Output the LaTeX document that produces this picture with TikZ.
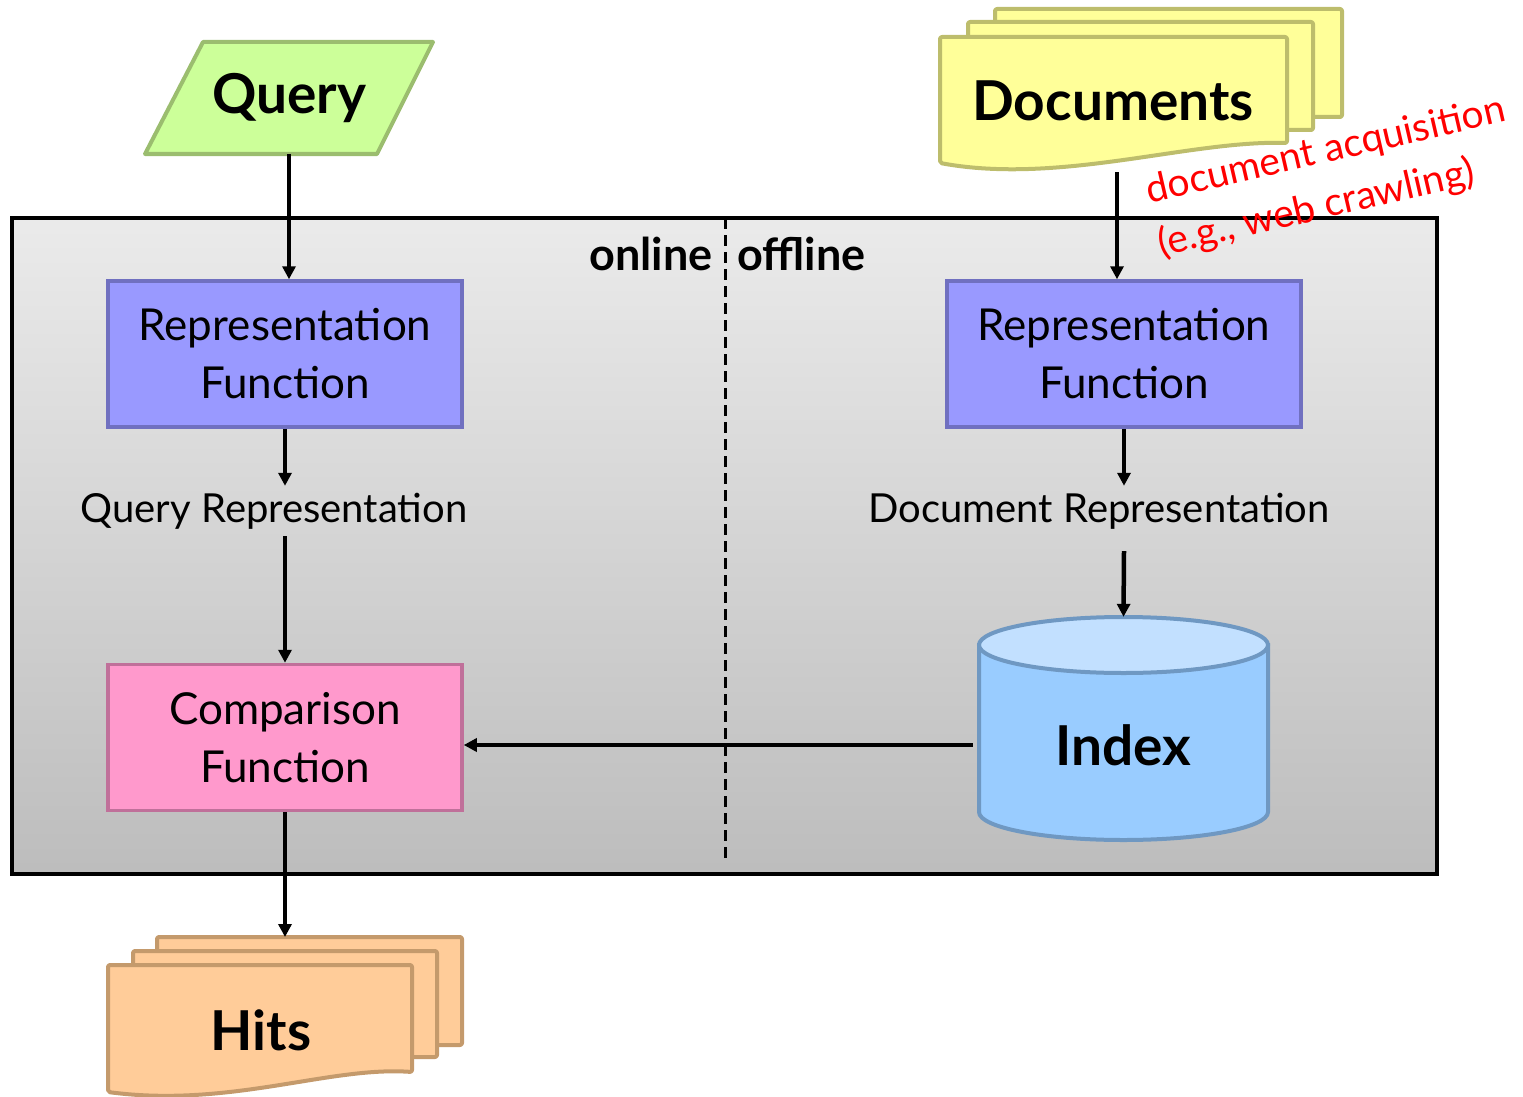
\documentclass[tikz,border=0pt]{standalone}
\usepackage{fontspec}
\setmainfont{Lato}
\usetikzlibrary{arrows.meta}
\definecolor{qfill}{HTML}{CCFF99}\definecolor{qline}{HTML}{9BBD6F}
\definecolor{rfill}{HTML}{9999FF}\definecolor{rline}{HTML}{7070C0}
\definecolor{cfill}{HTML}{FF99CC}\definecolor{cline}{HTML}{C0709A}
\definecolor{dfill}{HTML}{FFFF99}\definecolor{dline}{HTML}{BDBD6C}
\definecolor{hfill}{HTML}{FFCC99}\definecolor{hline}{HTML}{C49A6C}
\definecolor{ibody}{HTML}{99CCFF}\definecolor{itop}{HTML}{C2E0FF}\definecolor{iline}{HTML}{6F98C2}
\definecolor{redtxt}{HTML}{FF0000}
\tikzset{
  arr/.style={line width=4.5pt,-{Triangle[length=13pt,width=13pt]}},
  box/.style={line width=3.5pt,minimum width=354pt,minimum height=146pt,align=center,font=\fontsize{44}{58}\selectfont},
  plain/.style={font=\fontsize{40}{48}\selectfont},
  big/.style={font=\fontsize{55}{64}\selectfont\bfseries},
  mid/.style={font=\fontsize{45}{52}\selectfont\bfseries},
  sheet/.style={line width=4pt,rounded corners=2pt,line join=round},
}
\begin{document}
\begin{tikzpicture}[x=1pt,y=-1pt]
\useasboundingbox (0,0) rectangle (1523,1097);
% main panel
\shade[top color=black!8,bottom color=black!26] (12,218) rectangle (1437,874);
\draw[line width=4.5pt] (12,218) rectangle (1437,874);
\draw[line width=3pt,dash pattern=on 11pt off 6pt] (725,218) -- (725,862);
\node[mid,anchor=east] (online) at (716,254) {online};
\node[mid,anchor=west] (offline) at (734,254) {offline};
% Query
\filldraw[fill=qfill,draw=qline,line width=4pt,line join=round] (203,42) -- (433,42) -- (377,154) -- (145,154) -- cycle;
\node[big,minimum height=112pt] (query) at (289,98) {Query};
% Documents
\filldraw[sheet,fill=dfill,draw=dline] (995,9) -- (1342,9) -- (1342,117) -- (995,117) -- cycle;
\filldraw[sheet,fill=dfill,draw=dline] (968,22) -- (1313,22) -- (1313,130) -- (968,130) -- cycle;
\filldraw[sheet,fill=dfill,draw=dline] (940,37) -- (1287,37) -- (1287,143) .. controls (1190,140) and (1060,185) .. (940,163) -- cycle;
\node[big] (docs) at (1113,101) {Documents};
\coordinate (docsout) at (1117,172);
% red annotation
\node[rotate=13,align=left,text=redtxt,font=\fontsize{39}{54}\selectfont] (acq) at (1332,178) {document acquisition\\(e.g., web crawling)};
% representation functions
\node[box,draw=rline,fill=rfill] (repL) at (285,354) {Representation\\Function};
\node[box,draw=rline,fill=rfill] (repR) at (1124,354) {Representation\\Function};
\node[plain,minimum height=50pt] (qrep) at (274,511) {Query Representation};
\node[plain,minimum height=50pt] (drep) at (1099,511) {Document Representation};
% comparison
\node[box,draw=cline,fill=cfill] (comp) at (285,737.5) {Comparison\\Function};
% index cylinder
\filldraw[fill=ibody,draw=iline,line width=4pt] (979,645) -- (979,812) arc[start angle=180,end angle=360,x radius=144.5pt,y radius=28pt] -- (1268,645) -- cycle;
\filldraw[fill=itop,draw=iline,line width=4pt] (1123.5,645) ellipse[x radius=144.5pt,y radius=28pt];
\node[big,minimum width=301pt,minimum height=256pt] (index) at (1123.5,745) {Index};
% Hits
\filldraw[sheet,fill=hfill,draw=hline] (157,937) -- (462,937) -- (462,1045) -- (157,1045) -- cycle;
\filldraw[sheet,fill=hfill,draw=hline] (133,951) -- (437,951) -- (437,1057) -- (133,1057) -- cycle;
\filldraw[sheet,fill=hfill,draw=hline] (108,965) -- (412,965) -- (412,1072) .. controls (330,1066) and (230,1108) .. (108,1092) -- cycle;
\node[big] (hits) at (261,1030) {Hits};
\coordinate (hitsin) at (285,937);
% connectors
\draw[arr] (query.south) -- (query.south |- repL.north);
\draw[arr] (repL.south) -- (repL.south |- qrep.north);
\draw[arr] (repL.south |- qrep.south) -- (comp.north);
\draw[arr] (comp.south) -- (hitsin);
\draw[arr] (docsout) -- (docsout |- repR.north);
\draw[arr] (repR.south) -- (repR.south |- drep.north);
\draw[arr] ([yshift=-15pt]repR.south |- drep.south) -- (index.north);
\draw[arr] (index.west) -- (comp.east |- index.west);
\end{tikzpicture}
\end{document}
